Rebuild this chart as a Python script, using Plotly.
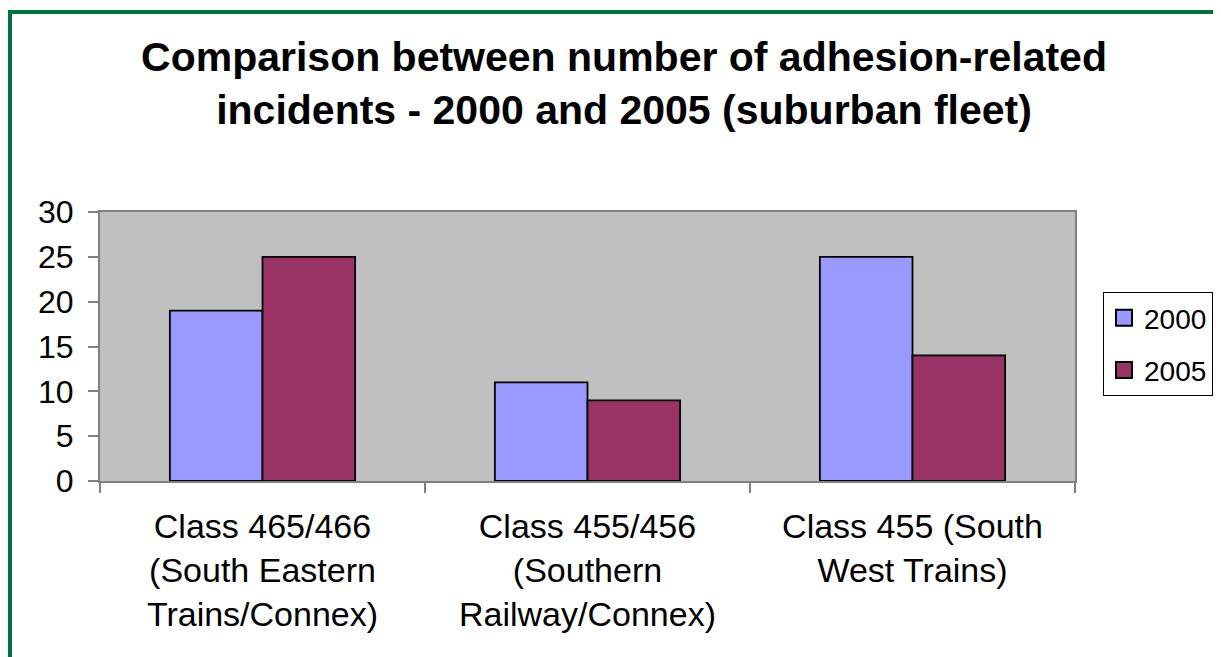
import plotly.graph_objects as go

categories = ["Class 465/466<br>(South Eastern<br>Trains/Connex)",
              "Class 455/456<br>(Southern<br>Railway/Connex)",
              "Class 455 (South<br>West Trains)"]
series_names = ["2000", "2005"]
values_2000 = [19, 11, 25]
values_2005 = [25, 9, 14]
y_ticks = [0, 5, 10, 15, 20, 25, 30]
colors = ["#9999FF", "#993366"]

W, H = 1221, 657
OFF = 8  # page body margin
L, R, T, B = 100 - OFF, 1075 - OFF, 212 - OFF, 481 - OFF

fig = go.Figure()
for name, vals, col, grp in zip(series_names, [values_2000, values_2005], colors, ["a", "b"]):
    fig.add_trace(go.Bar(x=categories, y=vals, name=name, legendgroup=grp, showlegend=False,
                         marker=dict(color=col, line=dict(color="black", width=1.8))))
    # legend entry with a larger square swatch
    fig.add_trace(go.Scatter(x=[None], y=[None], mode="markers", name=name, legendgroup=grp,
                             marker=dict(symbol="square", size=16, color=col,
                                         line=dict(color="black", width=2))))

font = "Liberation Sans, Arial, sans-serif"
pw, ph = R - L, B - T
def px_x(p): return (p - OFF - L) / pw
def px_y(p): return (B - (p - OFF)) / ph

fig.update_layout(
    width=W, height=H,
    margin=dict(l=L, r=W - R, t=T, b=H - B, pad=0),
    paper_bgcolor="white", plot_bgcolor="#C0C0C0",
    barmode="group", bargap=0.43, bargroupgap=0,
    font=dict(family=font, color="black"),
    title=dict(text="<b>Comparison between number of adhesion-related<br>incidents - 2000 and 2005 (suburban fleet)</b>",
               x=616 / W, xanchor="center", y=1 - 63 / H, yanchor="middle",
               font=dict(size=41, family=font, color="black")),
    legend=dict(x=px_x(1103), xanchor="left", y=px_y(344), yanchor="middle",
                bordercolor="black", borderwidth=1, bgcolor="white",
                font=dict(size=28, family=font), traceorder="grouped",
                tracegroupgap=13, itemwidth=30),
    showlegend=True,
)
fig.update_yaxes(range=[0, 30], tickvals=y_ticks, ticks="outside", ticklen=10,
                 tickcolor="#808080", tickwidth=1.5, showgrid=False, zeroline=False,
                 showline=True, linecolor="#808080", linewidth=2, mirror=True,
                 ticklabelstandoff=8,
                 tickfont=dict(size=32, family=font, color="black"))
fig.update_xaxes(ticks="outside", tickson="boundaries", ticklen=10, tickcolor="#808080",
                 tickwidth=1.5, showgrid=False, showline=True, linecolor="#808080",
                 linewidth=2, mirror=True, ticklabelstandoff=14,
                 tickfont=dict(size=34, family=font, color="black"))

# green frame around the page
fig.add_shape(type="rect", xref="paper", yref="paper",
              x0=px_x(10), x1=px_x(1300), y0=px_y(720), y1=px_y(12),
              line=dict(color="#00703C", width=4), fillcolor="rgba(0,0,0,0)", layer="below")

fig.write_html("out.html")
